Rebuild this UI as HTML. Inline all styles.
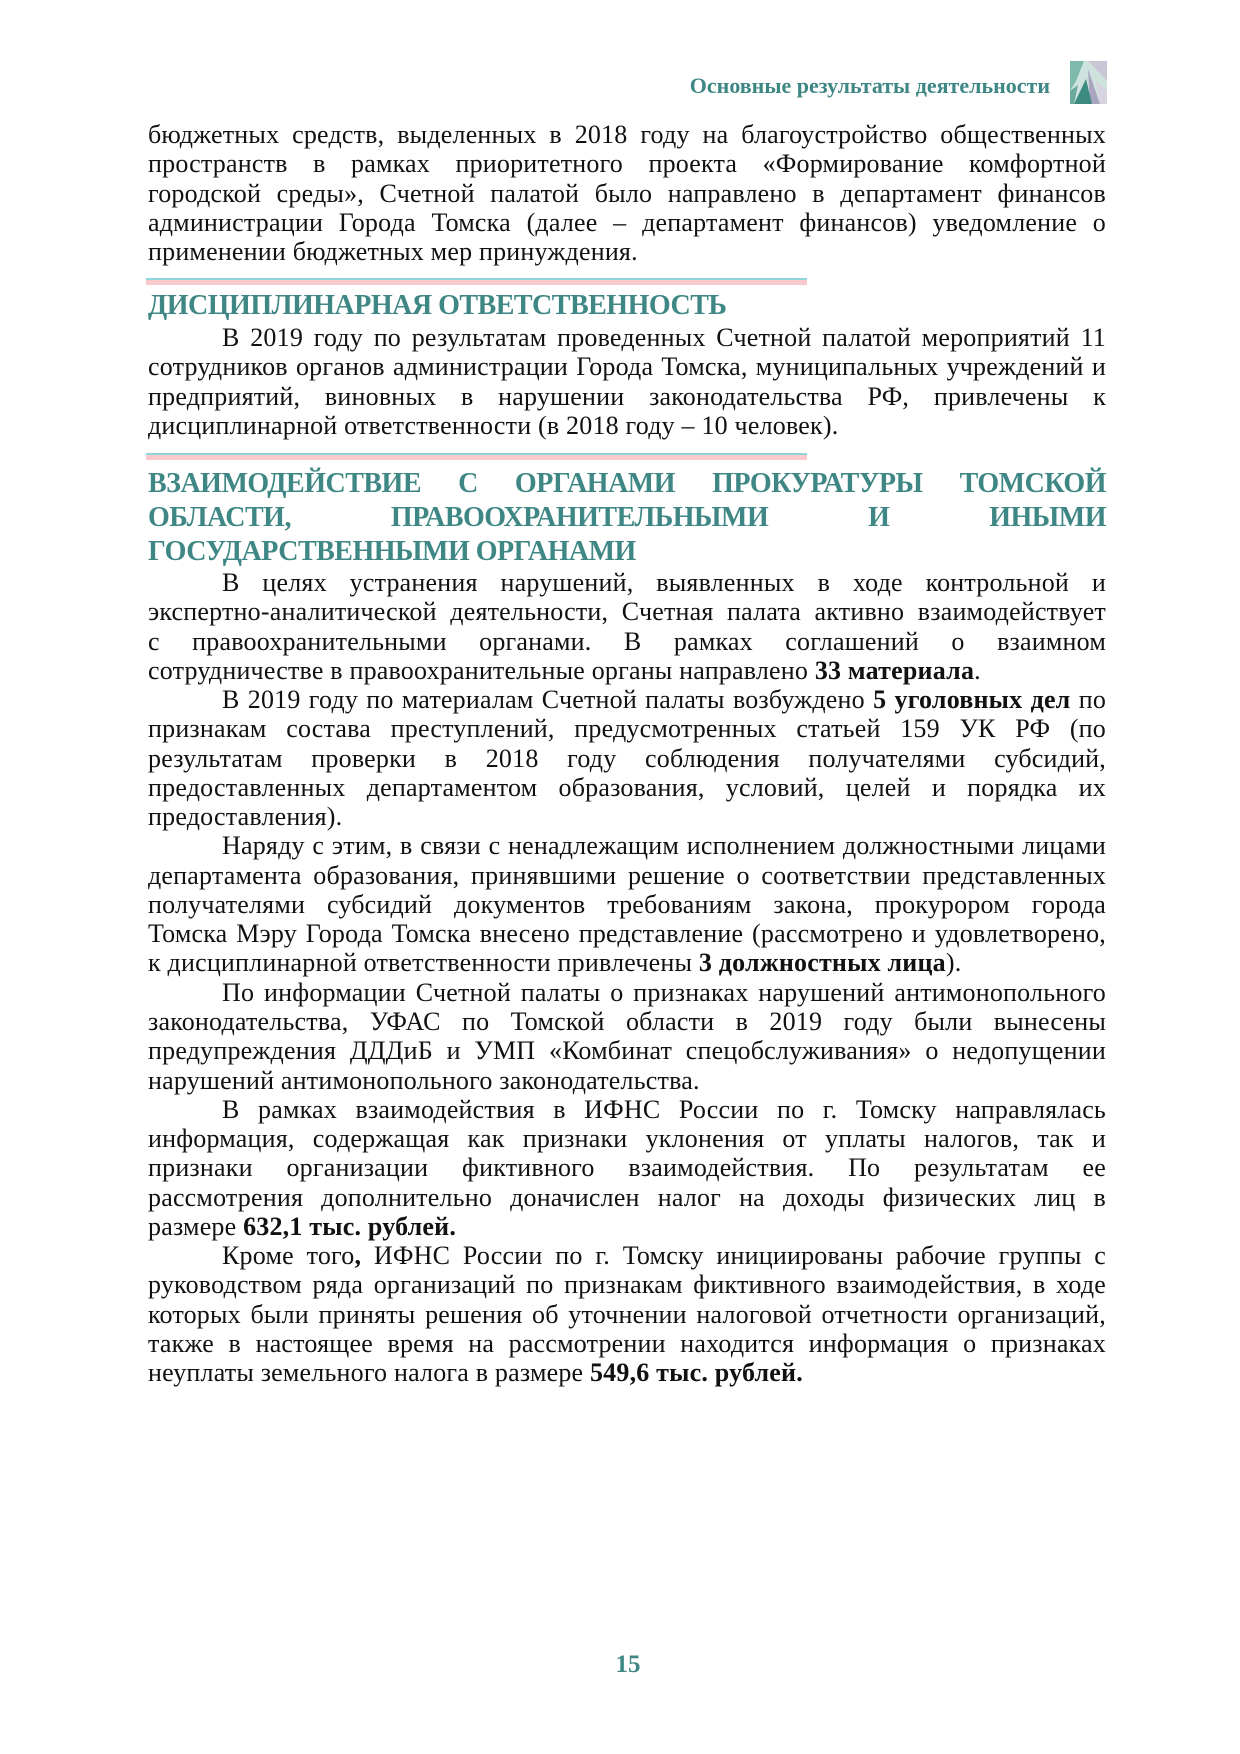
<!DOCTYPE html>
<html><head><meta charset="utf-8">
<style>
html,body{margin:0;padding:0;background:#fff;}
body{width:1240px;height:1754px;position:relative;overflow:hidden;font-family:"Liberation Serif","DejaVu Serif",serif;color:#111;}
.blk{position:absolute;left:148px;width:958px;font-size:26px;line-height:29.27px;letter-spacing:0.2px;}
.l{display:block;text-align:justify;text-align-last:justify;white-space:nowrap;height:29.27px;}
.l.e{text-align-last:left;}
.l.i{padding-left:74px;}
.h{position:absolute;left:148px;width:958px;color:#3e8784;font-weight:bold;font-size:28px;letter-spacing:-0.5px;}
.h .l{height:34px;line-height:34px;}
.rule{position:absolute;left:146px;width:661px;height:5px;background:#f9c9cc;border-top:2px solid #8fd6dc;}
b{font-weight:bold;}
</style></head><body>
<div style="position:absolute;right:190px;top:72px;font-size:22px;font-weight:bold;color:#3e8784;line-height:28px;">Основные результаты деятельности</div>
<svg style="position:absolute;left:1070px;top:61px" width="37" height="43" viewBox="0 0 37 43">
<rect width="37" height="43" fill="#cfe3de"/>
<polygon points="0,0 14,0 6,20 0,30" fill="#7fb9ac"/>
<polygon points="18,0 37,0 37,20 24,6" fill="#c9c6d6"/>
<polygon points="18,8 30,43 20,43" fill="#a9a5bf"/>
<polygon points="4,43 16,18 22,43" fill="#3d8a80"/>
<polygon points="0,30 8,24 4,43 0,43" fill="#6aa99b"/>
<polygon points="26,20 37,30 37,43 30,43" fill="#d7d3e0"/>
</svg>

<div class="blk" style="top:120px">
<span class="l">бюджетных средств, выделенных в 2018 году на благоустройство общественных</span>
<span class="l">пространств в рамках приоритетного проекта «Формирование комфортной</span>
<span class="l">городской среды», Счетной палатой было направлено в департамент финансов</span>
<span class="l">администрации Города Томска (далее – департамент финансов) уведомление о</span>
<span class="l e">применении бюджетных мер принуждения.</span>
</div>

<div class="rule" style="top:278px"></div>
<div class="h" style="top:289px"><span class="l e">ДИСЦИПЛИНАРНАЯ ОТВЕТСТВЕННОСТЬ</span></div>

<div class="blk" style="top:323px">
<span class="l i">В 2019 году по результатам проведенных Счетной палатой мероприятий 11</span>
<span class="l">сотрудников органов администрации Города Томска, муниципальных учреждений и</span>
<span class="l">предприятий, виновных в нарушении законодательства РФ, привлечены к</span>
<span class="l e">дисциплинарной ответственности (в 2018 году – 10 человек).</span>
</div>

<div class="rule" style="top:453px"></div>
<div class="h" style="top:467px">
<span class="l">ВЗАИМОДЕЙСТВИЕ С ОРГАНАМИ ПРОКУРАТУРЫ ТОМСКОЙ</span>
<span class="l">ОБЛАСТИ, ПРАВООХРАНИТЕЛЬНЫМИ И ИНЫМИ</span>
<span class="l e">ГОСУДАРСТВЕННЫМИ ОРГАНАМИ</span>
</div>

<div class="blk" style="top:568px">
<span class="l i">В целях устранения нарушений, выявленных в ходе контрольной и</span>
<span class="l">экспертно-аналитической деятельности, Счетная палата активно взаимодействует</span>
<span class="l">с правоохранительными органами. В рамках соглашений о взаимном</span>
<span class="l e">сотрудничестве в правоохранительные органы направлено <b>33 материала</b>.</span>
<span class="l i">В 2019 году по материалам Счетной палаты возбуждено <b>5 уголовных дел</b> по</span>
<span class="l">признакам состава преступлений, предусмотренных статьей 159 УК РФ (по</span>
<span class="l">результатам проверки в 2018 году соблюдения получателями субсидий,</span>
<span class="l">предоставленных департаментом образования, условий, целей и порядка их</span>
<span class="l e">предоставления).</span>
<span class="l i">Наряду с этим, в связи с ненадлежащим исполнением должностными лицами</span>
<span class="l">департамента образования, принявшими решение о соответствии представленных</span>
<span class="l">получателями субсидий документов требованиям закона, прокурором города</span>
<span class="l">Томска Мэру Города Томска внесено представление (рассмотрено и удовлетворено,</span>
<span class="l e">к дисциплинарной ответственности привлечены <b>3 должностных лица</b>).</span>
<span class="l i">По информации Счетной палаты о признаках нарушений антимонопольного</span>
<span class="l">законодательства, УФАС по Томской области в 2019 году были вынесены</span>
<span class="l">предупреждения ДДДиБ и УМП «Комбинат спецобслуживания» о недопущении</span>
<span class="l e">нарушений антимонопольного законодательства.</span>
<span class="l i">В рамках взаимодействия в ИФНС России по г. Томску направлялась</span>
<span class="l">информация, содержащая как признаки уклонения от уплаты налогов, так и</span>
<span class="l">признаки организации фиктивного взаимодействия. По результатам ее</span>
<span class="l">рассмотрения дополнительно доначислен налог на доходы физических лиц в</span>
<span class="l e">размере <b>632,1 тыс. рублей.</b></span>
<span class="l i">Кроме того<b>,</b> ИФНС России по г. Томску инициированы рабочие группы с</span>
<span class="l">руководством ряда организаций по признакам фиктивного взаимодействия, в ходе</span>
<span class="l">которых были приняты решения об уточнении налоговой отчетности организаций,</span>
<span class="l">также в настоящее время на рассмотрении находится информация о признаках</span>
<span class="l e">неуплаты земельного налога в размере <b>549,6 тыс. рублей.</b></span>
</div>

<div style="position:absolute;left:578px;width:100px;top:1648px;text-align:center;font-size:25px;font-weight:bold;color:#3e8784;line-height:34px;">15</div>
</body></html>
